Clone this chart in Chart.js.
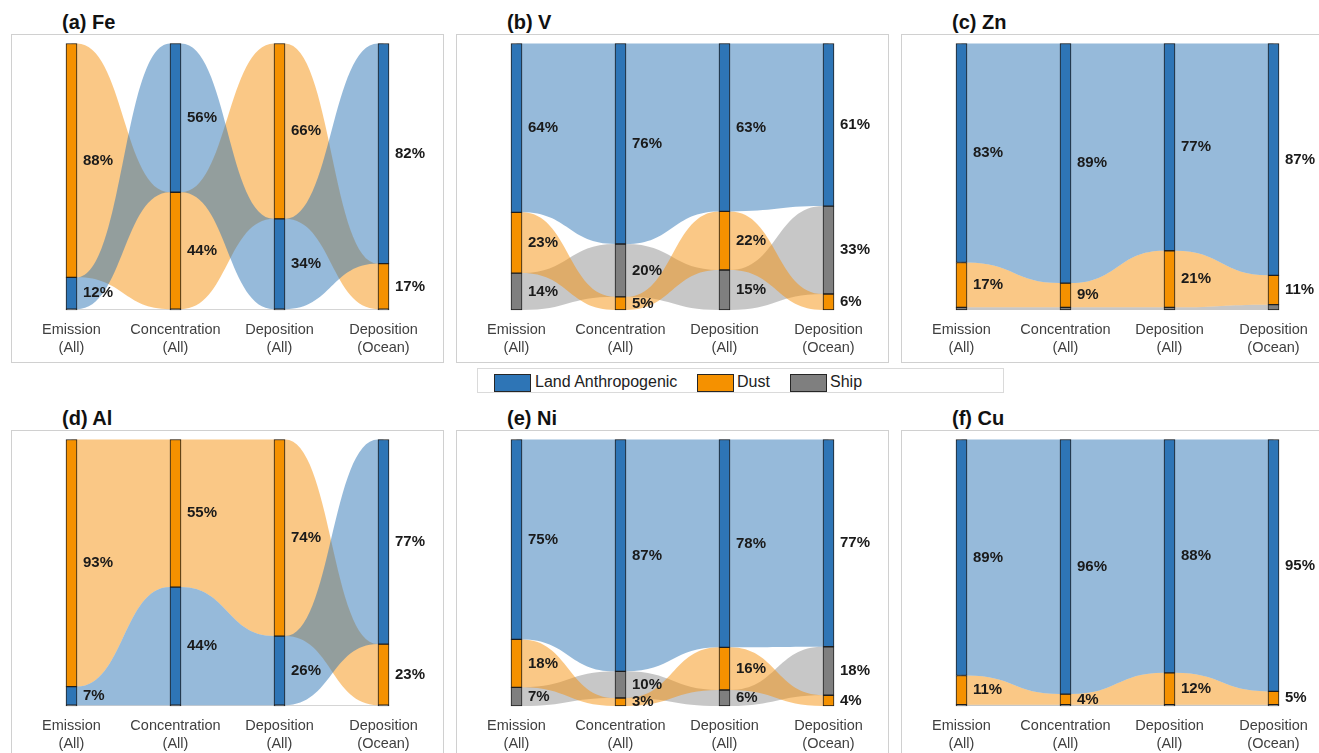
<!DOCTYPE html>
<html>
<head>
<meta charset="utf-8">
<script src="https://cdn.jsdelivr.net/npm/chart.js@4.4.1/dist/chart.umd.min.js"></script>
<style>
  html, body { margin: 0; padding: 0; background: #fff; }
  body { width: 1319px; height: 753px; overflow: hidden; position: relative;
         font-family: "Liberation Sans", Arial, sans-serif; }
  .box { position: absolute; border: 1px solid #d0d0d0; box-sizing: border-box; }
  .title { position: absolute; font-weight: bold; font-size: 20px; line-height: 24px;
           color: #111; white-space: nowrap; }
  canvas.panel { position: absolute; }
  .legend { position: absolute; border: 1px solid #dadada; box-sizing: border-box; }
  .sw { position: absolute; width: 37px; height: 18px; border: 1px solid #262626; box-sizing: border-box; }
  .lt { position: absolute; font-size: 16px; line-height: 18px; color: #222; white-space: nowrap; }
</style>
</head>
<body>
<script>
// Pathway stages along the x axis
const stages = [["Emission", "(All)"], ["Concentration", "(All)"], ["Deposition", "(All)"], ["Deposition", "(Ocean)"]];
const sources = ["Land Anthropogenic", "Dust", "Ship"];

// Source contributions (%) at each stage, per element
const feLand = [12, 56, 34, 82];
const feDust = [88, 44, 66, 17];
const feShip = [0.3, 0.3, 0.3, 0.3];

const vLand = [64, 76, 63, 61];
const vDust = [23, 5, 22, 6];
const vShip = [14, 20, 15, 33];

const znLand = [83, 89, 77, 87];
const znDust = [17, 9, 21, 11];
const znShip = [1, 1, 1, 2];

const alLand = [7, 44, 26, 77];
const alDust = [93, 55, 74, 23];
const alShip = [0.3, 0.3, 0.3, 0.3];

const niLand = [75, 87, 78, 77];
const niDust = [18, 3, 16, 4];
const niShip = [7, 10, 6, 18];

const cuLand = [89, 96, 88, 95];
const cuDust = [11, 4, 12, 5];
const cuShip = [0.5, 0.5, 0.5, 0.5];

const panelTitles = ["(a) Fe", "(b) V", "(c) Zn", "(d) Al", "(e) Ni", "(f) Cu"];
const panelSeries = [
  [feLand, feDust, feShip],
  [vLand, vDust, vShip],
  [znLand, znDust, znShip],
  [alLand, alDust, alShip],
  [niLand, niDust, niShip],
  [cuLand, cuDust, cuShip]
];

// Styling
const barColors = ["#2E75B6", "#F59100", "#7F7F7F"];
const flowColors = ["rgba(46,117,182,0.5)", "rgba(245,146,14,0.5)", "rgba(128,128,128,0.44)"];
const flowOrder = [2, 1, 0];   // ship ribbons first, land anthropogenic ribbons on top
const colLeft = [11, 456, 901];
const rowTop = [34, 430];
const CW = 432, CH = 328, BAR = 11;

// Each stage column is a 100% stack, largest share on top; build floating [low, high] spans.
function buildSpans(series) {
  const n = series[0].length;
  const spans = series.map(() => new Array(n));
  for (let i = 0; i < n; i++) {
    const total = series.reduce((sum, s) => sum + s[i], 0);
    const order = [0, 1, 2].sort((a, b) => series[a][i] - series[b][i]);
    let base = 0;
    for (const s of order) {
      const share = series[s][i] / total * 100;
      spans[s][i] = [base, base + share];
      base += share;
    }
  }
  return spans;
}

const flowPlugin = {
  id: "flows",
  beforeDatasetsDraw(chart) {
    const ctx = chart.ctx, xs = chart.scales.x, ys = chart.scales.y;
    const half = BAR / 2;
    ctx.save();
    for (const s of flowOrder) {
      const data = chart.data.datasets[s].data;
      ctx.fillStyle = flowColors[s];
      for (let i = 0; i < data.length - 1; i++) {
        const c0 = xs.getPixelForValue(i), c1 = xs.getPixelForValue(i + 1);
        const x0 = c0 + half, x1 = c1 - half, xm = (x0 + x1) / 2;
        const t0 = ys.getPixelForValue(data[i][1]), t1 = ys.getPixelForValue(data[i + 1][1]);
        const b0 = ys.getPixelForValue(data[i][0]), b1 = ys.getPixelForValue(data[i + 1][0]);
        ctx.beginPath();
        ctx.moveTo(c0, t0);
        ctx.lineTo(x0, t0);
        ctx.bezierCurveTo(xm, t0, xm, t1, x1, t1);
        ctx.lineTo(c1, t1);
        ctx.lineTo(c1, b1);
        ctx.lineTo(x1, b1);
        ctx.bezierCurveTo(xm, b1, xm, b0, x0, b0);
        ctx.lineTo(c0, b0);
        ctx.closePath();
        ctx.fill();
      }
    }
    ctx.restore();
  }
};

const labelPlugin = {
  id: "pctLabels",
  afterDatasetsDraw(chart) {
    const ctx = chart.ctx, xs = chart.scales.x, ys = chart.scales.y;
    ctx.save();
    ctx.font = "bold 15px 'Liberation Sans', Arial, sans-serif";
    ctx.fillStyle = "#1a1a1a";
    ctx.textAlign = "left";
    ctx.textBaseline = "middle";
    chart.data.datasets.forEach(ds => {
      ds.values.forEach((v, i) => {
        if (v < 3) return;
        const span = ds.data[i];
        const y = ys.getPixelForValue((span[0] + span[1]) / 2);
        const x = xs.getPixelForValue(i) + BAR / 2 + 6;
        ctx.fillText(v + "%", x, y);
      });
    });
    ctx.restore();
  }
};

panelSeries.forEach((series, p) => {
  const left = colLeft[p % 3], top = rowTop[Math.floor(p / 3)];

  const box = document.createElement("div");
  box.className = "box";
  box.style.cssText = `left:${left}px;top:${top}px;width:${CW + 1}px;height:${CH + 1}px`;
  document.body.appendChild(box);

  const title = document.createElement("div");
  title.className = "title";
  title.textContent = panelTitles[p];
  title.style.cssText = `left:${left + 51}px;top:${top - 24}px`;
  document.body.appendChild(title);

  const cv = document.createElement("canvas");
  cv.className = "panel";
  cv.width = CW; cv.height = CH;
  cv.style.cssText = `left:${left}px;top:${top}px;width:${CW}px;height:${CH}px`;
  document.body.appendChild(cv);

  const spans = buildSpans(series);
  new Chart(cv, {
    type: "bar",
    data: {
      labels: stages,
      datasets: sources.map((name, s) => ({
        label: name,
        data: spans[s],
        values: series[s],
        backgroundColor: barColors[s],
        borderColor: "#1e1e1e",
        borderWidth: 1,
        borderSkipped: false,
        barThickness: BAR,
        grouped: false,
        clip: false
      }))
    },
    options: {
      responsive: false,
      animation: false,
      devicePixelRatio: 1,
      layout: { padding: { left: 8.5, right: 7.5, top: 9.5, bottom: 0 } },
      plugins: { legend: { display: false }, tooltip: { enabled: false } },
      scales: {
        x: {
          grid: { display: false, drawTicks: false },
          border: { display: false },
          ticks: {
            padding: 11,
            autoSkip: false,
            maxRotation: 0,
            color: "#404040",
            font: { family: "'Liberation Sans', Arial, sans-serif", size: 14.5, lineHeight: 1.25 }
          },
          afterFit(scale) { scale.height = 52; }
        },
        y: { display: false, min: 0, max: 100 }
      }
    },
    plugins: [flowPlugin, labelPlugin]
  });
});

// Shared legend between the two rows
const legend = document.createElement("div");
legend.className = "legend";
legend.style.cssText = "left:477px;top:368px;width:527px;height:25px";
document.body.appendChild(legend);
const legendX = [[494, 535], [697, 737], [790, 830]];
sources.forEach((name, s) => {
  const sw = document.createElement("div");
  sw.className = "sw";
  sw.style.cssText = `left:${legendX[s][0]}px;top:374px;background:${barColors[s]}`;
  document.body.appendChild(sw);
  const t = document.createElement("div");
  t.className = "lt";
  t.textContent = name;
  t.style.cssText = `left:${legendX[s][1]}px;top:373px`;
  document.body.appendChild(t);
});
</script>
</body>
</html>
